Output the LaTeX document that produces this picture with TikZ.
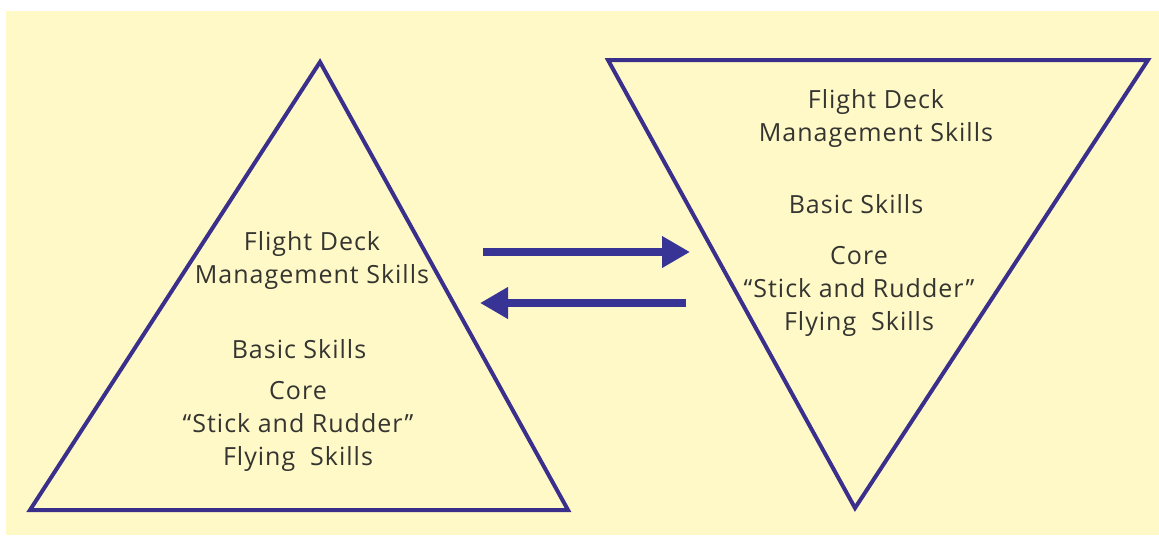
\documentclass[tikz,border=0pt]{standalone}
\usepackage{fontspec}
\setmainfont[LetterSpace=4]{Open Sans}
\usetikzlibrary{arrows.meta}
\definecolor{paper}{RGB}{255,249,200}
\definecolor{edge}{RGB}{58,48,140}
\definecolor{arrowblue}{RGB}{56,52,150}
\definecolor{ink}{RGB}{52,52,48}
\tikzset{
  frame/.style={draw=edge, line width=4pt, line join=miter},
  label/.style={text=ink, font=\fontsize{25}{33}\selectfont, align=center, inner sep=0pt},
  flow/.style={draw=arrowblue, line width=8pt, -{Triangle[length=28pt,width=30pt]}},
}
\begin{document}
\begin{tikzpicture}[x=1pt,y=-1pt]
  \useasboundingbox (0,0) rectangle (1159,542);
  \fill[white] (0,0) rectangle (1159,542);
  \fill[paper] (6,11) rectangle (1159,535);

  % upright pyramid
  \coordinate (LA) at (320,62);
  \coordinate (LL) at (30,510);
  \coordinate (LR) at (568,510);
  \draw[frame] (LA) -- (LL) -- (LR) -- cycle;

  % inverted pyramid
  \coordinate (RL) at (608,60);
  \coordinate (RR) at (1148,60);
  \coordinate (RB) at (855,508);
  \draw[frame] (RL) -- (RR) -- (RB) -- cycle;

  % texts of the upright pyramid
  \node[label] (lfd) at (312,260) {Flight Deck\\Management Skills};
  \node[label] (lbs) at (299,349) {Basic Skills};
  \node[label] (lcore) at (298,426) {Core\\``Stick and Rudder''\\Flying\ \ Skills};

  % texts of the inverted pyramid
  \node[label] (rfd) at (876,118) {Flight Deck\\Management Skills};
  \node[label] (rbs) at (856,204) {Basic Skills};
  \node[label] (rcore) at (859,291) {Core\\``Stick and Rudder''\\Flying\ \ Skills};

  % arrows between the two pyramids
  \coordinate (a1s) at (483,252);
  \coordinate (a1e) at (690,252);
  \coordinate (a2s) at (686,303);
  \coordinate (a2e) at (480,303);
  \draw[flow] (a1s) -- (a1e);
  \draw[flow] (a2s) -- (a2e);
\end{tikzpicture}
\end{document}
